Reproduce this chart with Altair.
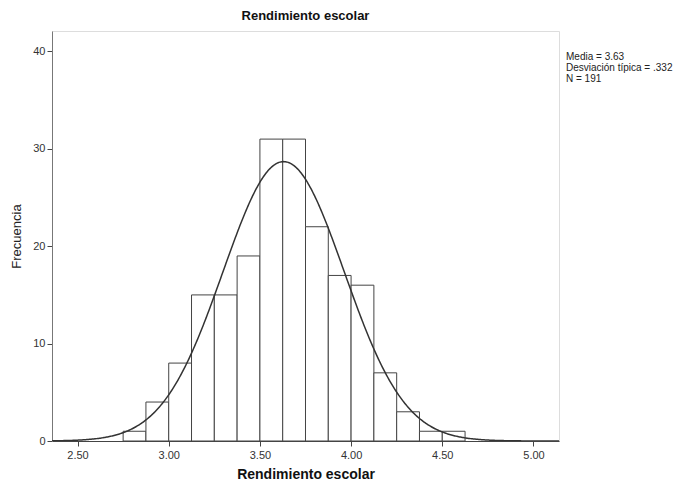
import altair as alt
import pandas as pd

# Histogram bins (width 0.125) and counts
bin_start = [2.750, 2.875, 3.000, 3.125, 3.250, 3.375, 3.500, 3.625,
             3.750, 3.875, 4.000, 4.125, 4.250, 4.375, 4.500]
bin_width = 0.125
counts = [1, 4, 8, 15, 15, 19, 31, 31, 22, 17, 16, 7, 3, 1, 1]

# Summary statistics shown in the chart
media = 3.63
desv = 0.332
n_total = 191

x_ticks = [2.5, 3.0, 3.5, 4.0, 4.5, 5.0]
y_ticks = [0, 10, 20, 30, 40]
x_domain = [2.36, 5.14]
y_domain = [0, 42.1]

FONT = "Liberation Sans"

bars_df = pd.DataFrame({
    "start": bin_start,
    "end": [b + bin_width for b in bin_start],
    "count": counts,
})

W, H = 507, 410

x_scale = alt.Scale(domain=x_domain, nice=False, zero=False)
y_scale = alt.Scale(domain=y_domain, nice=False)

bars = alt.Chart(bars_df).mark_rect(
    fill="white", stroke="#444444", strokeWidth=1
).encode(
    x=alt.X("start:Q", scale=x_scale,
            axis=alt.Axis(values=x_ticks, format=".2f", title="Rendimiento escolar",
                          grid=False, domainColor="#444444", tickColor="#444444",
                          tickSize=5, labelPadding=3, labelFontSize=11,
                          labelColor="#333333", labelFont=FONT,
                          titleFont=FONT, titleFontSize=14, titleFontWeight="bold",
                          titleColor="#111111", titleBaseline="alphabetic",
                          titleY=37)),
    x2="end:Q",
    y=alt.Y("count:Q", scale=y_scale,
            axis=alt.Axis(values=y_ticks, title="Frecuencia", grid=False,
                          domainColor="#777777", tickColor="#444444",
                          tickSize=5, labelPadding=2, labelFontSize=11,
                          labelColor="#333333", labelFont=FONT,
                          titleFont=FONT, titleFontSize=13, titleFontWeight="normal",
                          titleColor="#222222", titleAngle=270,
                          titleAlign="center", titleBaseline="middle",
                          titleX=-36, titleY=H / 2)),
    y2=alt.datum(0),
)

curve = alt.Chart(alt.sequence(start=x_domain[0], stop=x_domain[1] + 0.005, step=0.005, as_="x")).transform_calculate(
    y=f"{n_total} * {bin_width} * densityNormal(datum.x, {media}, {desv})"
).mark_line(color="#333333", strokeWidth=1.5, clip=True).encode(
    x=alt.X("x:Q", scale=x_scale),
    y=alt.Y("y:Q", scale=y_scale),
)

stats_text = [f"Media = {media:.2f}",
              f"Desviación típica = {('%.3f' % desv).lstrip('0')}",
              f"N = {n_total}"]

legend = alt.Chart(pd.DataFrame({"a": [0]})).mark_text(
    text=stats_text, align="left", baseline="top", fontSize=10,
    lineHeight=11, font=FONT, color="#222222"
).encode(x=alt.value(W + 7), y=alt.value(21))

chart = alt.layer(bars, curve, legend).properties(
    width=W, height=H,
    title=alt.Title("Rendimiento escolar", font=FONT, fontSize=13,
                    fontWeight="bold", color="#111111", offset=8, anchor="middle"),
    autosize=alt.AutoSizeParams(type="none"),
    padding={"left": 44, "top": 23, "right": 115, "bottom": 40},
).configure_view(stroke="#888888", strokeWidth=1).configure(background="white")

chart.save("out.html", embed_options={"renderer": "svg", "actions": False})
